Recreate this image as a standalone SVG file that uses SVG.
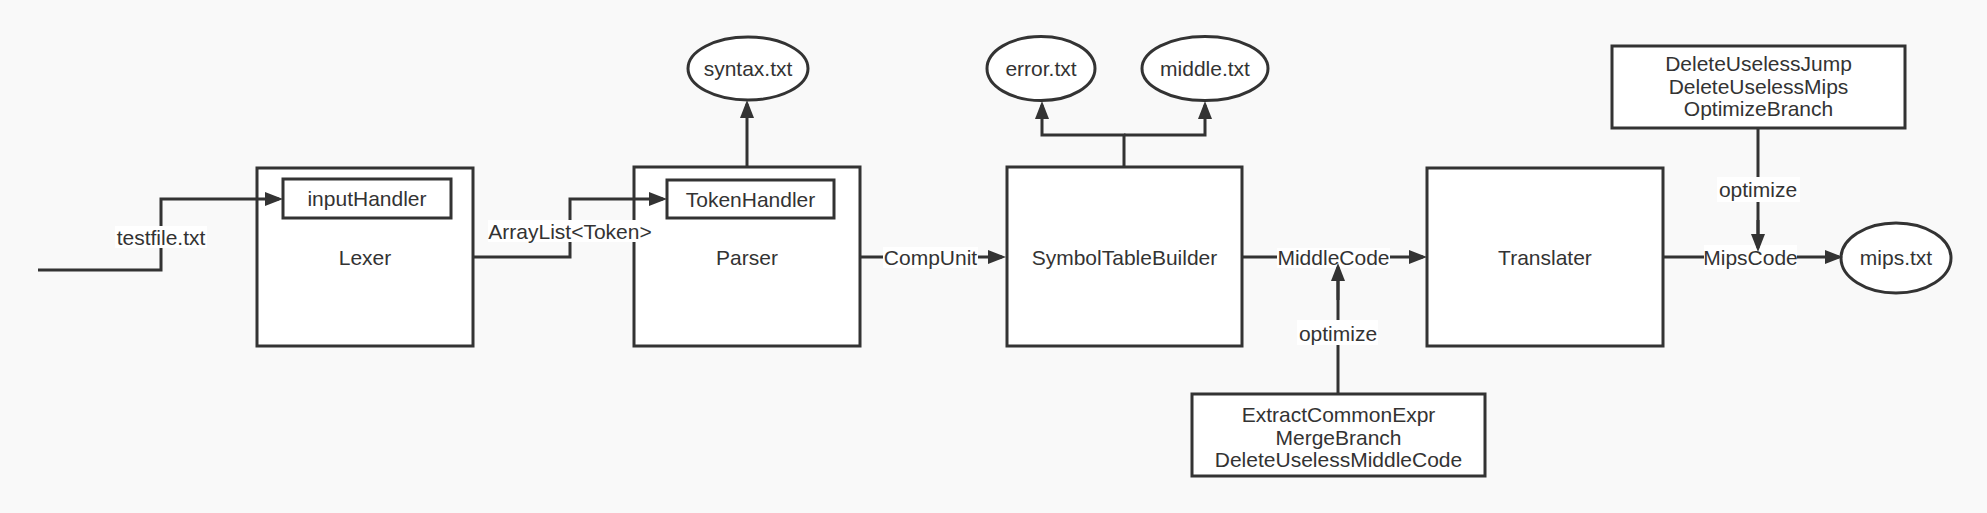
<svg xmlns="http://www.w3.org/2000/svg" width="1987" height="513" viewBox="0 0 1987 513">
<defs>
<style>
.box{fill:#ffffff;stroke:#333333;stroke-width:3}
.ell{fill:#ffffff;stroke:#333333;stroke-width:3}
.line{fill:none;stroke:#333333;stroke-width:3}
.t{font-family:"Liberation Sans",Arial,sans-serif;font-size:21px;fill:#333333;text-anchor:middle}
.lbl{fill:#ffffff;stroke:none}
</style>
<marker id="arr" markerUnits="userSpaceOnUse" markerWidth="18" markerHeight="14" viewBox="0 0 18 14" refX="14" refY="7" orient="auto">
<path d="M0,0 L18,7 L0,14 Z" fill="#333333"/>
</marker>
</defs>
<rect x="0" y="0" width="1987" height="513" fill="#f9f9f9"/>

<g id="lexer">
<rect class="box" x="257" y="168" width="216" height="178"/>
<text class="t" x="365" y="265">Lexer</text>
<g id="inputHandler">
<rect class="box" x="283" y="179" width="168" height="39"/>
<text class="t" x="367" y="206">inputHandler</text>
</g>
</g>

<g id="parser">
<rect class="box" x="634" y="167" width="226" height="179"/>
<text class="t" x="747" y="265">Parser</text>
<g id="tokenHandler">
<rect class="box" x="667" y="180" width="167" height="38"/>
<text class="t" x="750.5" y="206.5">TokenHandler</text>
</g>
</g>

<g id="syntax">
<ellipse class="ell" cx="748" cy="68.5" rx="60" ry="31.5"/>
<text class="t" x="748" y="76">syntax.txt</text>
</g>

<g id="symbolTableBuilder">
<rect class="box" x="1007" y="167" width="235" height="179"/>
<text class="t" x="1124.5" y="265">SymbolTableBuilder</text>
</g>

<g id="error">
<ellipse class="ell" cx="1041" cy="68.5" rx="54" ry="32"/>
<text class="t" x="1041" y="76">error.txt</text>
</g>

<g id="middle">
<ellipse class="ell" cx="1205" cy="68.5" rx="63" ry="32"/>
<text class="t" x="1205" y="76">middle.txt</text>
</g>

<g id="translater">
<rect class="box" x="1427" y="168" width="236" height="178"/>
<text class="t" x="1545" y="265">Translater</text>
</g>

<g id="mips">
<ellipse class="ell" cx="1896" cy="258" rx="55" ry="35"/>
<text class="t" x="1896" y="265">mips.txt</text>
</g>

<g id="middleOptimizer">
<rect class="box" x="1192" y="394" width="293" height="82"/>
<text class="t" x="1338.5" y="422">ExtractCommonExpr</text>
<text class="t" x="1338.5" y="444.5">MergeBranch</text>
<text class="t" x="1338.5" y="467">DeleteUselessMiddleCode</text>
</g>

<g id="mipsOptimizer">
<rect class="box" x="1612" y="46" width="293" height="82"/>
<text class="t" x="1758.5" y="71">DeleteUselessJump</text>
<text class="t" x="1758.5" y="93.5">DeleteUselessMips</text>
<text class="t" x="1758.5" y="116">OptimizeBranch</text>
</g>

<g id="connectors">
<path class="line" d="M38,270 H161 V199 H279" marker-end="url(#arr)"/>
<path class="line" d="M473,257 H570 V199 H663" marker-end="url(#arr)"/>
<path class="line" d="M747,167 V104" marker-end="url(#arr)"/>
<path class="line" d="M859,257 H1002" marker-end="url(#arr)"/>
<path class="line" d="M1124,167 V135 H1042 V105" marker-end="url(#arr)"/>
<path class="line" d="M1124,135 H1205 V105" marker-end="url(#arr)"/>
<path class="line" d="M1242,257 H1423" marker-end="url(#arr)"/>
<path class="line" d="M1663,257 H1839" marker-end="url(#arr)"/>
<path class="line" d="M1338,394 V267"/>
<path class="line" d="M1758,128 V248"/>

<rect class="lbl" x="115" y="226" width="92" height="22"/>
<text class="t" x="161" y="245">testfile.txt</text>
<rect class="lbl" x="488" y="220" width="164" height="22"/>
<text class="t" x="570" y="239">ArrayList&lt;Token&gt;</text>
<rect class="lbl" x="883" y="247" width="95" height="21"/>
<text class="t" x="930.5" y="265">CompUnit</text>
<rect class="lbl" x="1277" y="248" width="113" height="20"/>
<text class="t" x="1333.5" y="265">MiddleCode</text>
<rect class="lbl" x="1297" y="320" width="81" height="25"/>
<text class="t" x="1338" y="341">optimize</text>
<rect class="lbl" x="1704" y="245" width="93" height="24"/>
<text class="t" x="1750.5" y="265">MipsCode</text>
<rect class="lbl" x="1717" y="177" width="83" height="25"/>
<text class="t" x="1758" y="197">optimize</text>

<path class="line" d="M1338,300 V267" marker-end="url(#arr)"/>
<path class="line" d="M1758,220 V248" marker-end="url(#arr)"/>
</g>
</svg>
